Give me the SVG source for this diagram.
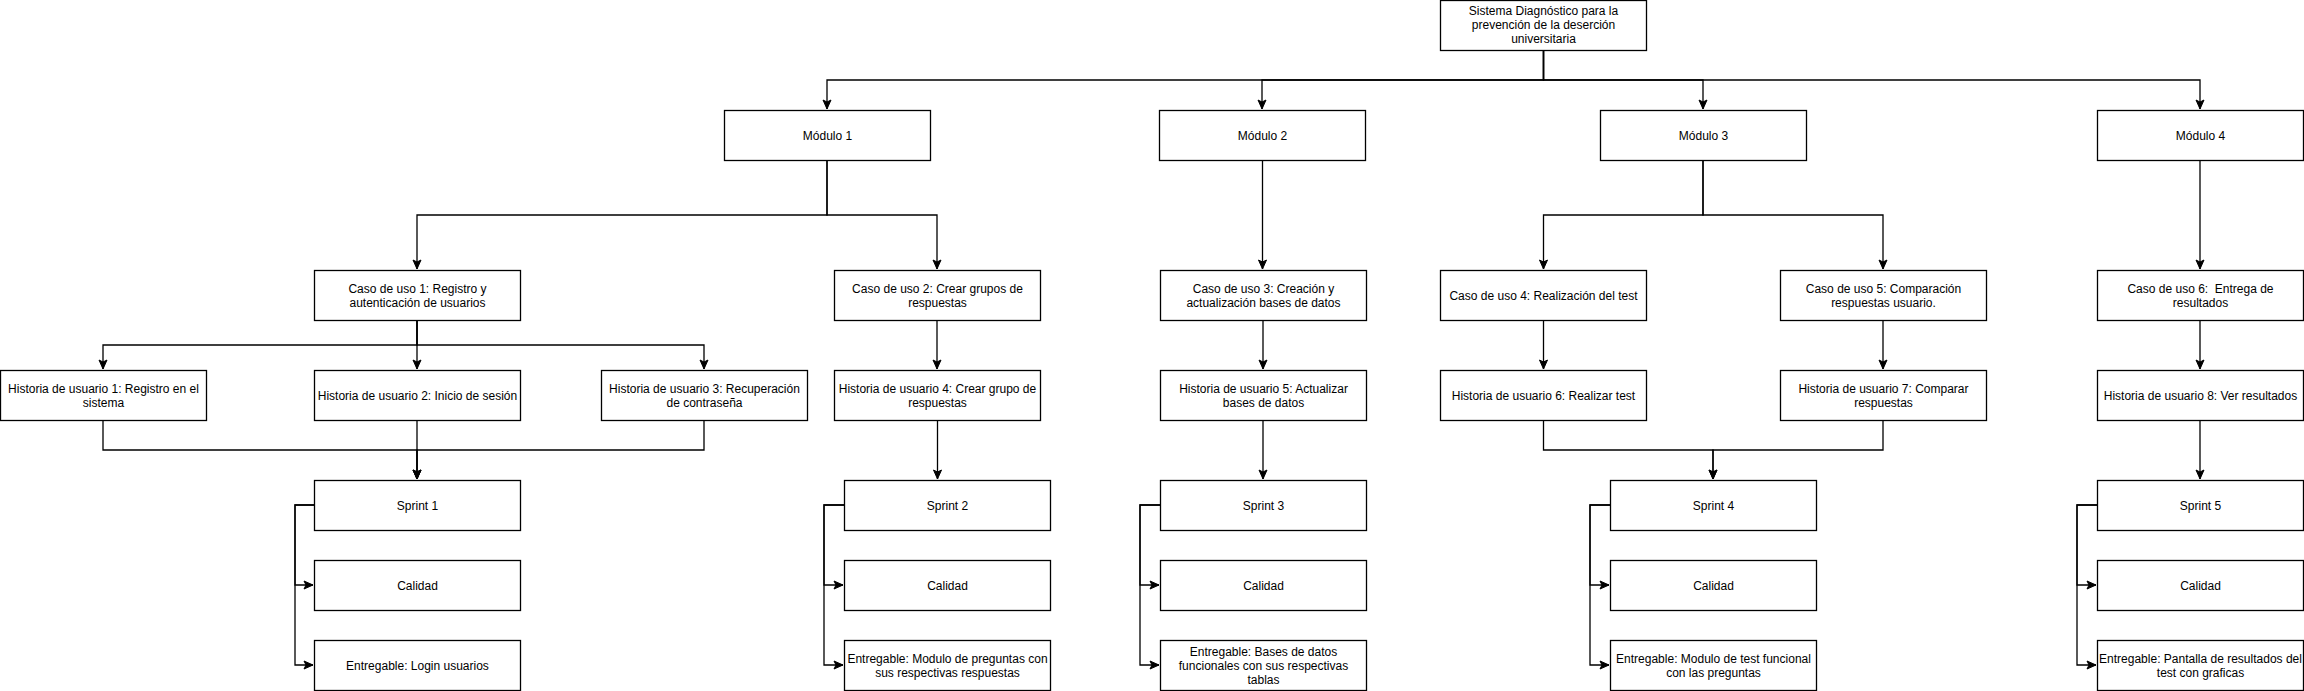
<svg xmlns="http://www.w3.org/2000/svg" width="2304" height="691" viewBox="0 0 2304 691">
<style>
.b{fill:#fff;stroke:#000;stroke-width:1.3}
.t{font-family:"Liberation Sans",Arial,Helvetica,sans-serif;font-size:12px;fill:#000;text-anchor:middle}
.c path{fill:none;stroke:#000;stroke-width:1.3}
</style>
<defs>
<marker id="a" markerUnits="userSpaceOnUse" markerWidth="12" markerHeight="12" viewBox="0 0 12 12" refX="10" refY="6" orient="auto">
<path d="M1,2 L10,6 L1,10 L3,6 Z" fill="#000" stroke="#000" stroke-width="1"/>
</marker>
</defs>
<rect width="2304" height="691" fill="#fff"/>
<g class="c" id="connectors">
<path d="M1543.5 50 V80 H827 V109" marker-end="url(#a)"/>
<path d="M1543.5 50 V80 H1262 V109" marker-end="url(#a)"/>
<path d="M1543.5 50 V80 H1703 V109" marker-end="url(#a)"/>
<path d="M1543.5 50 V80 H2200 V109" marker-end="url(#a)"/>
<path d="M827 160 V215 H417 V269" marker-end="url(#a)"/>
<path d="M827 160 V215 H937 V269" marker-end="url(#a)"/>
<path d="M1262.5 160 V269" marker-end="url(#a)"/>
<path d="M1703 160 V215 H1543.5 V269" marker-end="url(#a)"/>
<path d="M1703 160 V215 H1883 V269" marker-end="url(#a)"/>
<path d="M2200 160 V269" marker-end="url(#a)"/>
<path d="M417 320 V345 H103 V369" marker-end="url(#a)"/>
<path d="M417 320 V369" marker-end="url(#a)"/>
<path d="M417 320 V345 H704 V369" marker-end="url(#a)"/>
<path d="M937 320 V369" marker-end="url(#a)"/>
<path d="M1263 320 V369" marker-end="url(#a)"/>
<path d="M1543.5 320 V369" marker-end="url(#a)"/>
<path d="M1883 320 V369" marker-end="url(#a)"/>
<path d="M2200 320 V369" marker-end="url(#a)"/>
<path d="M103 420 V450 H417 V479" marker-end="url(#a)"/>
<path d="M417 420 V479" marker-end="url(#a)"/>
<path d="M704 420 V450 H417 V479" marker-end="url(#a)"/>
<path d="M937.5 420 V479" marker-end="url(#a)"/>
<path d="M1263 420 V479" marker-end="url(#a)"/>
<path d="M1543.5 420 V450 H1713 V479" marker-end="url(#a)"/>
<path d="M1883 420 V450 H1713 V479" marker-end="url(#a)"/>
<path d="M2200 420 V479" marker-end="url(#a)"/>
<path d="M314 505 H295 V585 H313" marker-end="url(#a)"/>
<path d="M314 505 H295 V665 H313" marker-end="url(#a)"/>
<path d="M844 505 H824 V585 H843" marker-end="url(#a)"/>
<path d="M844 505 H824 V665 H843" marker-end="url(#a)"/>
<path d="M1160 505 H1140 V585 H1159" marker-end="url(#a)"/>
<path d="M1160 505 H1140 V665 H1159" marker-end="url(#a)"/>
<path d="M1610 505 H1590 V585 H1609" marker-end="url(#a)"/>
<path d="M1610 505 H1590 V665 H1609" marker-end="url(#a)"/>
<path d="M2097 505 H2077 V585 H2096" marker-end="url(#a)"/>
<path d="M2097 505 H2077 V665 H2096" marker-end="url(#a)"/>
</g>
<g id="root"><rect class="b" x="1440.5" y="0.5" width="206" height="50"/><text class="t" x="1543.5" y="15">Sistema Diagnóstico para la</text><text class="t" x="1543.5" y="29">prevención de la deserción</text><text class="t" x="1543.5" y="43">universitaria</text></g>
<g id="mod1"><rect class="b" x="724.5" y="110.5" width="206" height="50"/><text class="t" x="827.5" y="139.5">Módulo 1</text></g>
<g id="mod2"><rect class="b" x="1159.5" y="110.5" width="206" height="50"/><text class="t" x="1262.5" y="139.5">Módulo 2</text></g>
<g id="mod3"><rect class="b" x="1600.5" y="110.5" width="206" height="50"/><text class="t" x="1703.5" y="139.5">Módulo 3</text></g>
<g id="mod4"><rect class="b" x="2097.5" y="110.5" width="206" height="50"/><text class="t" x="2200.5" y="139.5">Módulo 4</text></g>
<g id="caso1"><rect class="b" x="314.5" y="270.5" width="206" height="50"/><text class="t" x="417.5" y="292.5">Caso de uso 1: Registro y</text><text class="t" x="417.5" y="306.5">autenticación de usuarios</text></g>
<g id="caso2"><rect class="b" x="834.5" y="270.5" width="206" height="50"/><text class="t" x="937.5" y="292.5">Caso de uso 2: Crear grupos de</text><text class="t" x="937.5" y="306.5">respuestas</text></g>
<g id="caso3"><rect class="b" x="1160.5" y="270.5" width="206" height="50"/><text class="t" x="1263.5" y="292.5">Caso de uso 3: Creación y</text><text class="t" x="1263.5" y="306.5">actualización bases de datos</text></g>
<g id="caso4"><rect class="b" x="1440.5" y="270.5" width="206" height="50"/><text class="t" x="1543.5" y="299.5">Caso de uso 4: Realización del test</text></g>
<g id="caso5"><rect class="b" x="1780.5" y="270.5" width="206" height="50"/><text class="t" x="1883.5" y="292.5">Caso de uso 5: Comparación</text><text class="t" x="1883.5" y="306.5">respuestas usuario.</text></g>
<g id="caso6"><rect class="b" x="2097.5" y="270.5" width="206" height="50"/><text class="t" x="2200.5" y="292.5" xml:space="preserve">Caso de uso 6:  Entrega de</text><text class="t" x="2200.5" y="306.5">resultados</text></g>
<g id="hu1"><rect class="b" x="0.5" y="370.5" width="206" height="50"/><text class="t" x="103.5" y="392.5">Historia de usuario 1: Registro en el</text><text class="t" x="103.5" y="406.5">sistema</text></g>
<g id="hu2"><rect class="b" x="314.5" y="370.5" width="206" height="50"/><text class="t" x="417.5" y="399.5">Historia de usuario 2: Inicio de sesión</text></g>
<g id="hu3"><rect class="b" x="601.5" y="370.5" width="206" height="50"/><text class="t" x="704.5" y="392.5">Historia de usuario 3: Recuperación</text><text class="t" x="704.5" y="406.5">de contraseña</text></g>
<g id="hu4"><rect class="b" x="834.5" y="370.5" width="206" height="50"/><text class="t" x="937.5" y="392.5">Historia de usuario 4: Crear grupo de</text><text class="t" x="937.5" y="406.5">respuestas</text></g>
<g id="hu5"><rect class="b" x="1160.5" y="370.5" width="206" height="50"/><text class="t" x="1263.5" y="392.5">Historia de usuario 5: Actualizar</text><text class="t" x="1263.5" y="406.5">bases de datos</text></g>
<g id="hu6"><rect class="b" x="1440.5" y="370.5" width="206" height="50"/><text class="t" x="1543.5" y="399.5">Historia de usuario 6: Realizar test</text></g>
<g id="hu7"><rect class="b" x="1780.5" y="370.5" width="206" height="50"/><text class="t" x="1883.5" y="392.5">Historia de usuario 7: Comparar</text><text class="t" x="1883.5" y="406.5">respuestas</text></g>
<g id="hu8"><rect class="b" x="2097.5" y="370.5" width="206" height="50"/><text class="t" x="2200.5" y="399.5">Historia de usuario 8: Ver resultados</text></g>
<g id="sprint1"><rect class="b" x="314.5" y="480.5" width="206" height="50"/><text class="t" x="417.5" y="509.5">Sprint 1</text></g>
<g id="cal1"><rect class="b" x="314.5" y="560.5" width="206" height="50"/><text class="t" x="417.5" y="589.5">Calidad</text></g>
<g id="ent1"><rect class="b" x="314.5" y="640.5" width="206" height="50"/><text class="t" x="417.5" y="669.5">Entregable: Login usuarios</text></g>
<g id="sprint2"><rect class="b" x="844.5" y="480.5" width="206" height="50"/><text class="t" x="947.5" y="509.5">Sprint 2</text></g>
<g id="cal2"><rect class="b" x="844.5" y="560.5" width="206" height="50"/><text class="t" x="947.5" y="589.5">Calidad</text></g>
<g id="ent2"><rect class="b" x="844.5" y="640.5" width="206" height="50"/><text class="t" x="947.5" y="662.5">Entregable: Modulo de preguntas con</text><text class="t" x="947.5" y="676.5">sus respectivas respuestas</text></g>
<g id="sprint3"><rect class="b" x="1160.5" y="480.5" width="206" height="50"/><text class="t" x="1263.5" y="509.5">Sprint 3</text></g>
<g id="cal3"><rect class="b" x="1160.5" y="560.5" width="206" height="50"/><text class="t" x="1263.5" y="589.5">Calidad</text></g>
<g id="ent3"><rect class="b" x="1160.5" y="640.5" width="206" height="50"/><text class="t" x="1263.5" y="655.5">Entregable: Bases de datos</text><text class="t" x="1263.5" y="669.5">funcionales con sus respectivas</text><text class="t" x="1263.5" y="683.5">tablas</text></g>
<g id="sprint4"><rect class="b" x="1610.5" y="480.5" width="206" height="50"/><text class="t" x="1713.5" y="509.5">Sprint 4</text></g>
<g id="cal4"><rect class="b" x="1610.5" y="560.5" width="206" height="50"/><text class="t" x="1713.5" y="589.5">Calidad</text></g>
<g id="ent4"><rect class="b" x="1610.5" y="640.5" width="206" height="50"/><text class="t" x="1713.5" y="662.5">Entregable: Modulo de test funcional</text><text class="t" x="1713.5" y="676.5">con las preguntas</text></g>
<g id="sprint5"><rect class="b" x="2097.5" y="480.5" width="206" height="50"/><text class="t" x="2200.5" y="509.5">Sprint 5</text></g>
<g id="cal5"><rect class="b" x="2097.5" y="560.5" width="206" height="50"/><text class="t" x="2200.5" y="589.5">Calidad</text></g>
<g id="ent5"><rect class="b" x="2097.5" y="640.5" width="206" height="50"/><text class="t" x="2200.5" y="662.5">Entregable: Pantalla de resultados del</text><text class="t" x="2200.5" y="676.5">test con graficas</text></g>
</svg>
